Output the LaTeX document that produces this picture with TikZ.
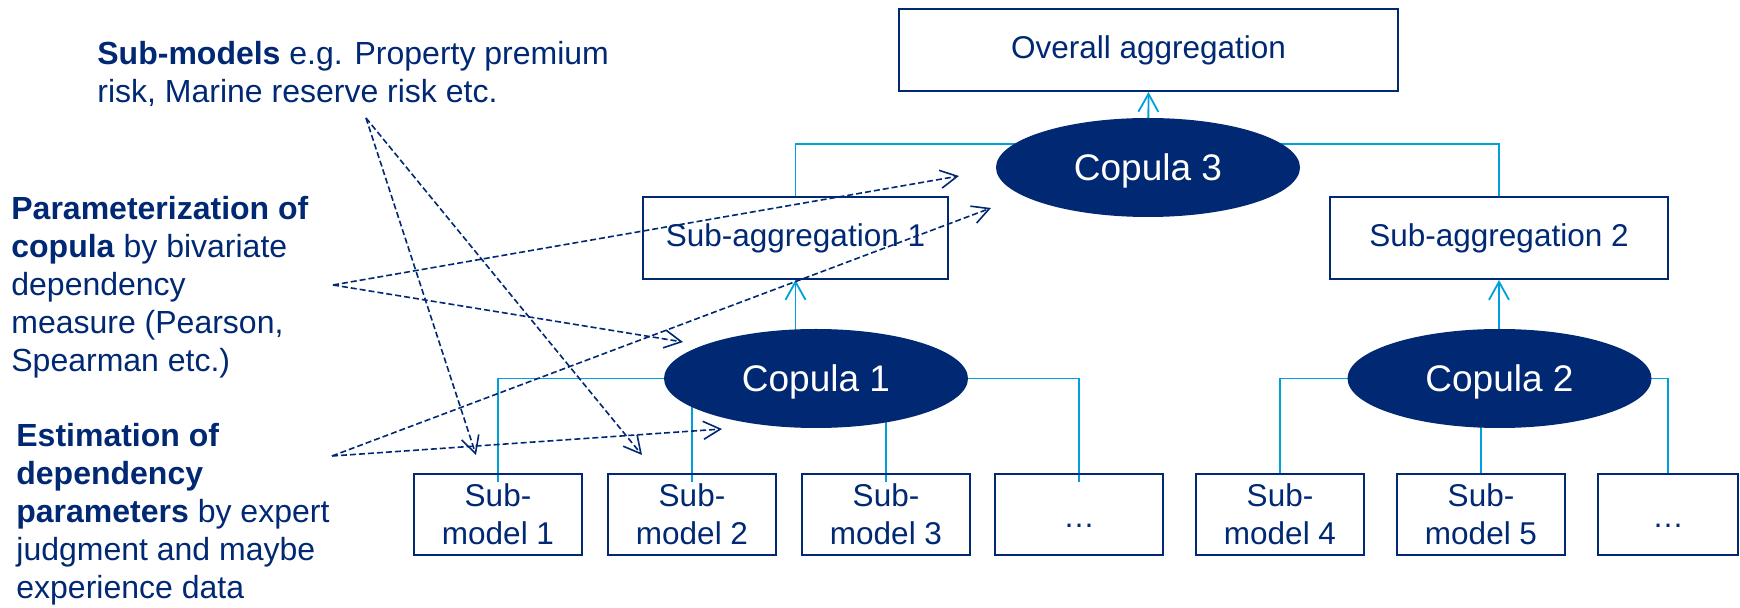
\documentclass[tikz,border=0pt]{standalone}
\usepackage{fontspec}
\setmainfont{Liberation Sans}
\usetikzlibrary{shapes.geometric,arrows.meta,backgrounds}
\definecolor{navy}{RGB}{0,40,115}
\definecolor{cyanline}{RGB}{0,160,222}

\begin{document}
\begin{tikzpicture}[x=0.5pt,y=-0.5pt]
\tikzset{box/.style={draw=navy,line width=1pt,text=navy,align=center,inner sep=0pt,minimum height=41pt,font=\fontsize{15.75}{19}\selectfont}}
\tikzset{copula/.style={ellipse,fill=navy,text=white,inner sep=0pt,text depth=0pt,minimum width=152pt,minimum height=49.5pt,font=\fontsize{18.5}{22}\selectfont}}
\tikzset{link/.style={draw=cyanline,line width=0.9pt}}
\tikzset{uplink/.style={draw=cyanline,line width=0.9pt,-{Straight Barb[length=9pt,width=10pt]}}}
\tikzset{note/.style={text=navy,align=left,inner sep=0pt,font=\fontsize{16}{19}\selectfont}}
\tikzset{pointer/.style={draw=navy,line width=0.8pt,dash pattern=on 3pt off 1.5pt,-{Straight Barb[length=8.5pt,width=9pt]}}}

\useasboundingbox (0,0) rectangle (1740,608);

% aggregation tree
\node[box,minimum width=249.5pt] (top) at (1148.5,50) {Overall aggregation};
\node[copula] (c3) at (1148,167.5) {Copula 3};
\node[box,minimum width=152.5pt] (sa1) at (795.5,238) {Sub-aggregation 1};
\node[box,minimum width=169pt] (sa2) at (1499,238) {Sub-aggregation 2};
\node[copula] (c1) at (816,378.5) {Copula 1};
\node[copula] (c2) at (1499.5,378.5) {Copula 2};

\foreach \n/\x/\w/\t in {1/498/84pt/{Sub-\\model 1},2/692/84pt/{Sub-\\model 2},3/886/84pt/{Sub-\\model 3},4/1079/84pt/{\strut\raisebox{-2.5pt}{…}},5/1280/84pt/{Sub-\\model 4},6/1481/84pt/{Sub-\\model 5},7/1668/70pt/{\strut\raisebox{-2.5pt}{…}}} {
  \node[box,minimum height=40.5pt,minimum width=\w] (m\n) at (\x,514.5) {\t};
}

% connectors behind the copulas
\begin{pgfonlayer}{background}
\path[uplink] (c3.center) -- (top.south);
\path[link] (sa1.north) |- ([yshift=11.75pt]c3.center) -| (sa2.north);
\path[uplink] (sa1.south |- c1.center) -- (sa1.south);
\path[uplink] (sa2.south |- c2.center) -- (sa2.south);
\foreach \n/\c/\d in {1/c1/-4.5pt,2/c1/-4.5pt,3/c1/-4.5pt,4/c1/-4.5pt,5/c2/0pt,6/c2/0pt,7/c2/0pt} {
  \path[link] ([yshift=\d]m\n.north) |- (\c.center);
}
\end{pgfonlayer}

% explanations (anchored on the last line)
\node[note,anchor=base west] (submodels) at (97,103) {\textbf{Sub-models} e.g. Property premium\\risk, Marine reserve risk etc.};
\node[note,anchor=base west] (param) at (11,372) {\textbf{Parameterization of}\\\textbf{copula} by bivariate\\dependency\\measure (Pearson,\\Spearman etc.)};
\node[note,anchor=base west] (estim) at (16,599) {\textbf{Estimation of}\\\textbf{dependency}\\\textbf{parameters} by expert\\judgment and maybe\\experience data};

\coordinate (smfrom) at (366,118);
\coordinate (parfrom) at (333,285);
\coordinate (estfrom) at (332,456);
\coordinate (tipm1) at (476,455);
\coordinate (tipm2) at (642,455);
\coordinate (tipc3a) at (959,176);
\coordinate (tipc1a) at (683,342);
\coordinate (tipc3b) at (991,208);
\coordinate (tipc1b) at (722,429);

\foreach \a/\b in {smfrom/tipm1,smfrom/tipm2,parfrom/tipc3a,parfrom/tipc1a,estfrom/tipc3b,estfrom/tipc1b} {
  \path[pointer] (\a) -- (\b);
}

\end{tikzpicture}
\end{document}
